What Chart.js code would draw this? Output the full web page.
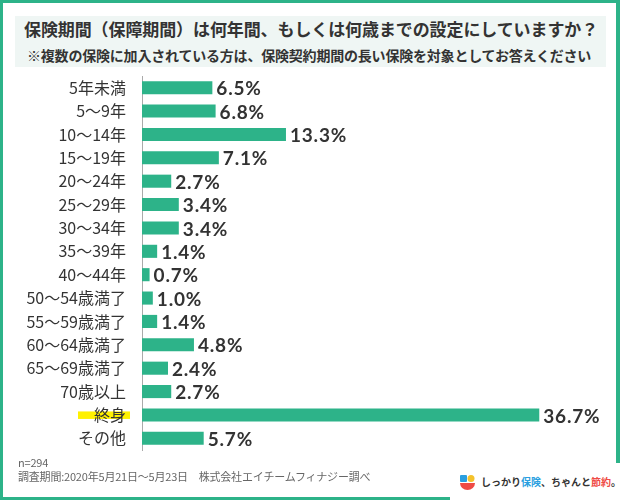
<!DOCTYPE html>
<html lang="ja">
<head>
<meta charset="utf-8">
<title>保険期間の設定</title>
<script src="https://cdn.jsdelivr.net/npm/chart.js@4.4.0/dist/chart.umd.min.js"></script>
<style>
  body { margin: 0; background: #fff; }
  #wrap { position: relative; width: 620px; height: 500px; overflow: hidden; font-family: "Noto Sans CJK JP", "Noto Sans", sans-serif; color: #333; }
  #frame { position: absolute; left: 0; top: 0; width: 613px; height: 494px; border: 3px solid #2db389; border-right-width: 4px; }
  #titleBox { position: absolute; left: 15px; top: 16px; width: 591px; height: 51px; background: #eff6f4; }
  .abs { position: absolute; white-space: nowrap; line-height: 1; }
  #title { left: 24px; top: 20px; font-size: 17px; font-weight: bold; color: #333; letter-spacing: -0.1px; }
  #subtitle { left: 27px; top: 48px; font-size: 14px; font-weight: bold; color: #333; letter-spacing: -0.2px; }
  #chart { position: absolute; left: 0; top: 0; }
  .note { left: 18px; font-size: 11px; color: #666; letter-spacing: -0.2px; }
  #logoBox { position: absolute; left: 450px; top: 463px; width: 170px; height: 37px; background: #fff; }
  #logoIcon { position: absolute; left: 460px; top: 475px; }
  #logoText { left: 481px; top: 477px; font-size: 10px; font-weight: bold; color: #333; }
</style>
</head>
<body>
<div id="wrap">
  <div id="frame"></div>
  <div id="titleBox"></div>
  <div id="title" class="abs">保険期間（保障期間）は何年間、もしくは何歳までの設定にしていますか？</div>
  <div id="subtitle" class="abs">※複数の保険に加入されている方は、保険契約期間の長い保険を対象としてお答えください</div>
  <canvas id="chart" width="620" height="500"></canvas>
  <div class="abs note" style="top:457px;">n=294</div>
  <div class="abs note" style="top:471px;">調査期間:2020年5月21日～5月23日　株式会社エイチームフィナジー調べ</div>
  <div id="logoBox"></div>
  <svg id="logoIcon" width="15" height="15" viewBox="0 0 15 15">
    <rect x="0" y="0" width="7" height="7" rx="1" fill="#2a9fe0"/>
    <circle cx="11" cy="3.5" r="3.5" fill="#f4c22b"/>
    <path d="M0 8 H15 A7.5 7 0 0 1 0 8 Z" fill="#ef4b45"/>
  </svg>
  <div id="logoText" class="abs">しっかり<span style="color:#2a9fe0">保険</span>、ちゃんと<span style="color:#ef4b45">節約</span>。</div>
</div>
<script>
// 回答の選択肢
const categories = ['5年未満', '5〜9年', '10〜14年', '15〜19年', '20〜24年', '25〜29年', '30〜34年', '35〜39年', '40〜44年',
  '50〜54歳満了', '55〜59歳満了', '60〜64歳満了', '65〜69歳満了', '70歳以上', '終身', 'その他'];
// 割合 (%)
const shares = [6.5, 6.8, 13.3, 7.1, 2.7, 3.4, 3.4, 1.4, 0.7, 1.0, 1.4, 4.8, 2.4, 2.7, 36.7, 5.7];
const highlightLabel = '終身';

const green = '#2db389';

// 黄色のマーカー (終身)
const labelMarker = {
  id: 'labelMarker',
  beforeDraw(chart) {
    const y = chart.scales.y;
    const i = categories.indexOf(highlightLabel);
    const cy = y.getPixelForTick(i);
    const ctx = chart.ctx;
    ctx.save();
    ctx.fillStyle = '#fff100';
    ctx.fillRect(78, cy - 3.5, 52, 7.5);
    ctx.restore();
  }
};

// バーの右に数値
const valueLabels = {
  id: 'valueLabels',
  afterDatasetsDraw(chart) {
    const ctx = chart.ctx;
    const meta = chart.getDatasetMeta(0);
    ctx.save();
    ctx.font = 'bold 19px Lato';
    ctx.letterSpacing = '0.8px';
    ctx.fillStyle = '#333';
    ctx.textBaseline = 'middle';
    ctx.textAlign = 'left';
    meta.data.forEach((bar, i) => {
      ctx.fillText(shares[i].toFixed(1) + '%', bar.x + 4, bar.y + 1.5);
    });
    ctx.restore();
  }
};

new Chart(document.getElementById('chart'), {
  type: 'bar',
  data: {
    labels: categories,
    datasets: [{
      data: shares,
      backgroundColor: green,
      borderWidth: 0,
      barPercentage: 0.56,
      categoryPercentage: 1
    }]
  },
  options: {
    indexAxis: 'y',
    responsive: false,
    animation: false,
    devicePixelRatio: 1,
    layout: { padding: { top: 76, bottom: 50, left: 0, right: 45 } },
    plugins: {
      legend: { display: false },
      tooltip: { enabled: false }
    },
    scales: {
      x: { display: false, min: 0, max: 40 },
      y: {
        afterFit: function(scale) { scale.width = 142; },
        grid: { display: false, drawTicks: false },
        border: { display: true, color: '#aaa', width: 1 },
        ticks: {
          autoSkip: false,
          padding: 16,
          color: '#333',
          font: { family: '"Noto Sans CJK JP", sans-serif', size: 16 }
        }
      }
    }
  },
  plugins: [labelMarker, valueLabels]
});
</script>
</body>
</html>
